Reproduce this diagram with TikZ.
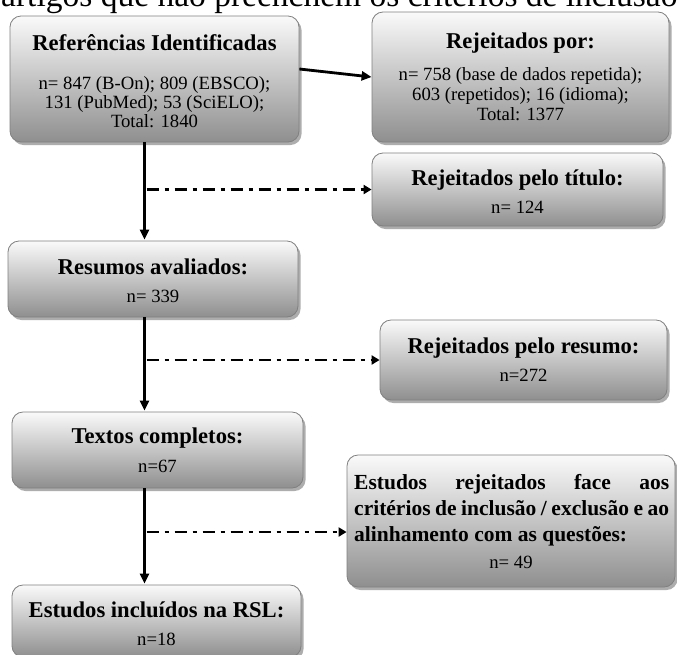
\documentclass[tikz,border=0pt]{standalone}
\usepackage{fontspec}
\setmainfont{Liberation Serif}
\usetikzlibrary{arrows.meta,shadows}
\begin{document}
\begin{tikzpicture}[x=1pt,y=-1pt,
  box/.style={draw=black!50, line width=0.8pt, rounded corners=11pt,
    top color=black!2, bottom color=black!44, inner sep=0pt,
    drop shadow={shadow xshift=2.5pt, shadow yshift=-3pt, opacity=0.4, fill=black!80}},
  ttl/.style={anchor=base, font=\bfseries\fontsize{22.6}{26}\selectfont, inner sep=0pt},
  num/.style={anchor=base, font=\fontsize{18.7}{21}\selectfont, inner sep=0pt},
  para/.style={anchor=base west, font=\bfseries\fontsize{21.5}{25}\selectfont, inner sep=0pt},
  flow/.style={line width=2.8pt, -{Triangle[length=10pt,width=9pt]}},
  skip/.style={line width=2.8pt, dash pattern=on 12pt off 6pt on 4pt off 6pt,
    -{Triangle[length=8pt,width=9pt]}},
]
\useasboundingbox (0,0) rectangle (677,654);
\fill[white] (0,0) rectangle (677,654);
\clip (0,0) rectangle (677,654);

% running text of the page above the chart
\node[anchor=base west, font=\fontsize{33.5}{40}\selectfont, inner sep=0pt] (hdr) at (1,6)
  {artigos que não preenchem os critérios de inclusão};

% boxes
\node[box, minimum width=289pt, minimum height=126pt] (b1) at (154.5,79) {};
\node[box, minimum width=297pt, minimum height=130pt] (b2) at (520.5,77) {};
\node[box, minimum width=291pt, minimum height=73pt]  (b3) at (517.5,189.5) {};
\node[box, minimum width=290pt, minimum height=76pt]  (b4) at (153,279) {};
\node[box, minimum width=287pt, minimum height=80pt]  (b5) at (523.5,360) {};
\node[box, minimum width=291pt, minimum height=76pt]  (b6) at (157.5,450) {};
\node[box, minimum width=328pt, minimum height=132pt] (b7) at (511,521) {};
\node[box, minimum width=289pt, minimum height=72pt]  (b8) at (156.5,621) {};

% box texts
\node[ttl] (b1t) at (154.5,50) {Referências Identificadas};
\node[num] (b1a) at (154.5,89) {n= 847 (B-On); 809 (EBSCO);};
\node[num] (b1b) at (154.5,108) {131 (PubMed); 53 (SciELO);};
\node[num] (b1c) at (154.5,127) {Total: 1840};

\node[ttl] (b2t) at (520.5,48) {Rejeitados por:};
\node[num] (b2a) at (520.5,80) {n= 758 (base de dados repetida);};
\node[num] (b2b) at (520.5,100) {603 (repetidos); 16 (idioma);};
\node[num] (b2c) at (520.5,120) {Total: 1377};

\node[ttl] (b3t) at (517.5,185) {Rejeitados pelo título:};
\node[num] (b3a) at (517.5,213) {n= 124};

\node[ttl] (b4t) at (153,274) {Resumos avaliados:};
\node[num] (b4a) at (153,302) {n= 339};

\node[ttl] (b5t) at (523.5,353) {Rejeitados pelo resumo:};
\node[num] (b5a) at (523.5,381) {n=272};

\node[ttl] (b6t) at (157.5,443) {Textos completos:};
\node[num] (b6a) at (157.5,472) {n=67};

\node[para] (b7t) at (354,489) {\makebox[315pt][s]{Estudos rejeitados face aos}};
\node[para] (b7u) at (354,515) {\makebox[315pt][s]{critérios de inclusão / exclusão e ao}};
\node[para] (b7v) at (354,541) {alinhamento com as questões:};
\node[num] (b7a) at (511,568) {n= 49};

\node[ttl] (b8t) at (156.5,617) {Estudos incluídos na RSL:};
\node[num] (b8a) at (156.5,645) {n=18};

% connectors
\coordinate (spine) at (144.5,0);
\draw[flow] ([yshift=10pt]b1.east) -- (b2.west);
\draw[flow, shorten >=1pt] (b1.south -| spine) -- (b4.north -| spine);
\draw[flow, shorten >=1pt] (b4.south -| spine) -- (b6.north -| spine);
\draw[flow, shorten >=1pt] (b6.south -| spine) -- (b8.north -| spine);
\draw[skip, shorten <=2pt] (b3.west -| spine) -- (b3.west);
\draw[skip, shorten <=2pt] (b5.west -| spine) -- (b5.west);
\draw[skip, shorten <=2pt] ([yshift=-11pt]b7.west -| spine) -- ([yshift=-11pt]b7.west);
\end{tikzpicture}
\end{document}
